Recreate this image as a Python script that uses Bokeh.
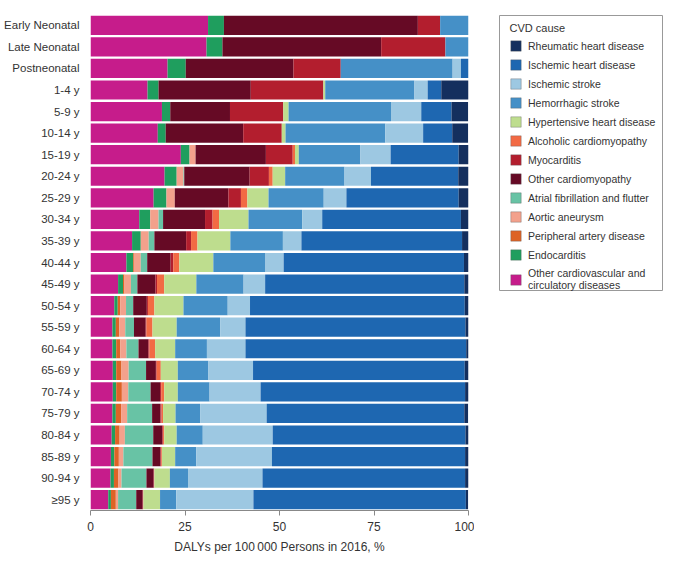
from bokeh.plotting import figure
from bokeh.layouts import row
from bokeh.models import ColumnDataSource, FactorRange, Legend, LegendItem, FixedTicker
from bokeh.core.properties import value
from bokeh.embed import file_html
from bokeh.resources import INLINE

ages = ["Early Neonatal", "Late Neonatal", "Postneonatal", "1-4 y", "5-9 y", "10-14 y",
        "15-19 y", "20-24 y", "25-29 y", "30-34 y", "35-39 y", "40-44 y", "45-49 y",
        "50-54 y", "55-59 y", "60-64 y", "65-69 y", "70-74 y", "75-79 y", "80-84 y",
        "85-89 y", "90-94 y", "≥95 y"]

# stack order, left to right
other_cvd   = [31.1, 30.7, 20.4, 15.1, 18.9, 17.8, 23.9, 19.6, 16.7, 12.9, 11.0, 9.5, 7.3, 6.3, 5.8, 5.8, 5.9, 5.9, 5.8, 5.6, 5.4, 5.3, 4.7]
endocard    = [4.2, 4.2, 4.8, 2.9, 2.2, 2.1, 2.3, 3.2, 3.4, 2.9, 2.3, 1.8, 1.3, 0.9, 0.9, 1.0, 0.9, 0.9, 0.9, 0.9, 0.9, 0.9, 0.7]
pad         = [0, 0, 0, 0, 0, 0, 0, 0, 0, 0, 0, 0.2, 0.4, 0.7, 0.9, 1.1, 1.4, 1.5, 1.4, 1.2, 1.2, 1.2, 1.3]
aortic      = [0, 0, 0, 0, 0, 0, 1.6, 1.8, 2.2, 2.2, 2.1, 1.8, 1.7, 1.5, 1.6, 1.6, 1.9, 1.7, 1.6, 1.4, 1.2, 0.8, 0.6]
afib        = [0, 0, 0, 0, 0, 0, 0, 0.2, 0, 1.2, 1.5, 1.7, 1.7, 1.9, 2.3, 3.2, 4.6, 5.9, 6.6, 7.5, 7.7, 6.6, 4.8]
other_cmp   = [51.3, 42.0, 28.5, 24.4, 15.8, 20.5, 18.6, 17.3, 14.2, 11.1, 8.4, 6.2, 4.8, 3.6, 3.1, 2.6, 2.6, 2.5, 2.2, 2.4, 2.1, 1.9, 1.7]
myocard     = [5.9, 17.0, 12.5, 19.2, 14.1, 10.2, 7.1, 5.1, 3.3, 2.0, 1.3, 0.7, 0.4, 0.3, 0.2, 0.3, 0.2, 0.3, 0.3, 0.2, 0.2, 0.1, 0.1]
alcoholic   = [0, 0, 0, 0, 0, 0, 0.6, 1.0, 1.7, 1.7, 1.7, 1.6, 1.9, 1.7, 1.6, 1.5, 1.1, 0.8, 0.4, 0.3, 0.2, 0.1, 0.1]
hypertens   = [0, 0, 0, 0.5, 1.4, 1.0, 1.0, 3.3, 5.6, 7.8, 8.7, 9.0, 8.5, 7.7, 6.4, 5.3, 4.5, 3.6, 3.3, 3.3, 3.5, 4.1, 4.4]
hem_stroke  = [7.5, 6.1, 29.6, 23.6, 27.1, 26.4, 16.3, 15.7, 14.6, 14.2, 13.9, 13.8, 12.5, 11.7, 11.5, 8.4, 8.1, 8.4, 6.5, 6.9, 5.6, 4.8, 4.3]
isch_stroke = [0, 0, 2.2, 3.5, 8.0, 10.0, 8.0, 7.0, 6.0, 5.3, 4.9, 4.8, 5.7, 5.9, 6.7, 10.2, 11.8, 13.5, 17.6, 18.5, 20.0, 19.7, 20.4]
ihd         = [0, 0, 2.0, 3.6, 8.0, 7.7, 18.0, 23.1, 29.7, 36.7, 42.5, 47.7, 52.7, 56.8, 58.2, 58.4, 56.0, 54.1, 52.3, 51.0, 51.1, 53.6, 56.2]
rhd         = [0, 0, 0, 7.2, 4.4, 4.2, 2.6, 2.7, 2.6, 2.1, 1.7, 1.2, 1.1, 1.0, 0.9, 0.8, 1.1, 1.1, 1.0, 1.0, 0.9, 0.9, 0.6]

causes = ["Other cardiovascular and\ncirculatory diseases", "Endocarditis", "Peripheral artery disease",
          "Aortic aneurysm", "Atrial fibrillation and flutter", "Other cardiomyopathy", "Myocarditis",
          "Alcoholic cardiomyopathy", "Hypertensive heart disease", "Hemorrhagic stroke",
          "Ischemic stroke", "Ischemic heart disease", "Rheumatic heart disease"]
series = [other_cvd, endocard, pad, aortic, afib, other_cmp, myocard, alcoholic, hypertens,
          hem_stroke, isch_stroke, ihd, rhd]
colors = ["#C61C8B", "#1F9E5E", "#DD6326", "#F3A18C", "#68C3A5", "#660A25", "#B31E2E",
          "#F26A44", "#BEDD8E", "#4590C7", "#9DC8E2", "#1E67B1", "#142F5E"]
legend_title = "CVD cause"

keys = ["s%d" % i for i in range(len(series))]
data = {"age": ages}
for k, s in zip(keys, series):
    data[k] = s
source = ColumnDataSource(data)

FONT = "Liberation Sans Narrow, Liberation Sans, sans-serif"
H = 560
BT, BB = 14, 50          # shared top / bottom borders so both frames line up
FH = H - BT - BB         # frame height (496 px)

p = figure(width=474, height=H, output_backend="svg", toolbar_location=None,
           y_range=FactorRange(factors=list(reversed(ages)), range_padding=0),
           x_range=(0, 100),
           min_border_left=90, min_border_right=6, min_border_top=BT, min_border_bottom=BB)

p.hbar_stack(keys, y="age", height=0.89, color=colors, source=source, line_width=0)

p.outline_line_color = None
p.xgrid.visible = False
p.ygrid.visible = False

p.xaxis.ticker = FixedTicker(ticks=[0, 25, 50, 75, 100])
p.xaxis.axis_label = "DALYs per 100\u2009000 Persons in 2016, %"
p.xaxis.axis_label_text_font = FONT
p.xaxis.axis_label_text_font_style = "normal"
p.xaxis.axis_label_text_font_size = "12px"
p.xaxis.axis_label_text_color = "#333333"
p.xaxis.axis_label_standoff = 6
p.xaxis.major_label_text_font = FONT
p.xaxis.major_label_text_font_size = "12px"
p.xaxis.major_label_text_color = "#333333"
p.xaxis.major_label_standoff = 6
p.xaxis.axis_line_color = "#888888"
p.xaxis.major_tick_line_color = "#888888"
p.xaxis.major_tick_out = 5
p.xaxis.major_tick_in = 0
p.xaxis.minor_tick_line_color = None

p.yaxis.axis_line_color = None
p.yaxis.major_tick_line_color = None
p.yaxis.minor_tick_line_color = None
p.yaxis.major_label_text_font = FONT
p.yaxis.major_label_text_font_size = "11.5px"
p.yaxis.major_label_text_color = "#333333"
p.yaxis.major_label_standoff = 5

# ---- legend panel: a separate figure whose data units equal pixels ----
LW = 196
BL = 10
FW = LW - BL
lg = figure(width=LW, height=H, output_backend="svg", toolbar_location=None,
            x_range=(0, FW), y_range=(FH, 0),
            min_border_left=BL, min_border_right=0, min_border_top=BT, min_border_bottom=BB)
lg.axis.visible = False
lg.grid.visible = False
lg.outline_line_color = None

# legend frame and title (pixel offsets inside the legend panel's frame)
lg.quad(left=[15], right=[178], top=[1], bottom=[276],
        fill_color="white", line_color="#999999", line_width=1)
lg.text(x=[25], y=[13], text=[legend_title], text_baseline="middle", text_align="left",
        text_font=value(FONT), text_font_size="11px", text_color="#333333")

# swatch renderers: one point outside the visible range each, used only for the legend glyphs
off = ColumnDataSource(dict(x=[-500], y=[-500]))
swatches = [lg.rect(x="x", y="y", width=1, height=1, fill_color=c,
                    line_color="#555555", line_alpha=0.35, line_width=1, source=off)
            for c in colors]

items = [LegendItem(label=c, renderers=[r]) for c, r in zip(causes, swatches)]
items = list(reversed(items))
legend = Legend(items=items, location="top_left",
                label_text_font=FONT, label_text_font_size="10.5px", label_text_color="#333333",
                glyph_width=13, glyph_height=13, label_height=13, spacing=6,
                label_standoff=6, padding=0, margin=25,
                border_line_color=None, background_fill_alpha=0)
lg.add_layout(legend, "center")

layout = row(p, lg)
open("out.html", "w").write(file_html(layout, INLINE))
